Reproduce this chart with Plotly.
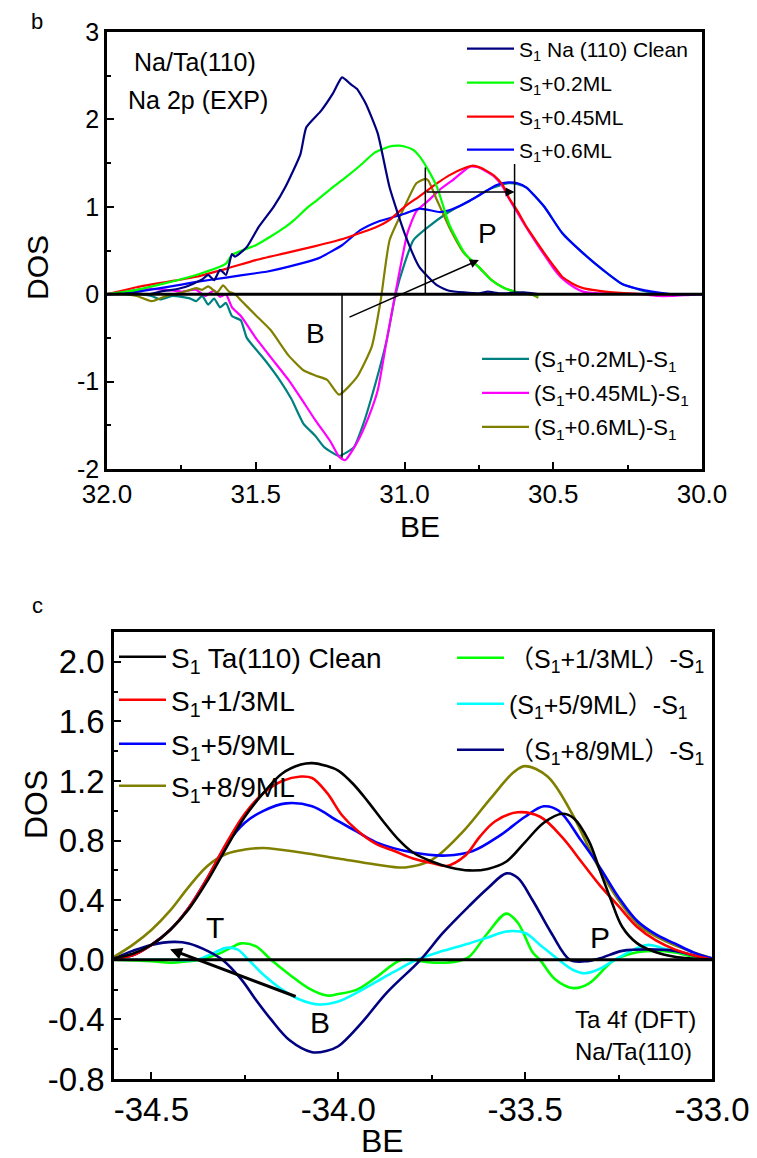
import plotly.graph_objects as go

# ---------------- panel b : Na 2p (EXP) ----------------
be_clean = [32.0, 31.9, 31.86, 31.82, 31.78, 31.74, 31.71, 31.68, 31.66, 31.64, 31.62, 31.6, 31.58,
            31.57, 31.53, 31.49, 31.44, 31.4, 31.35, 31.33, 31.28, 31.24, 31.21, 31.18, 31.16,
            31.13, 31.09, 31.05, 31.0, 30.95, 30.89, 30.85, 30.8, 30.75, 30.72, 30.68, 30.6, 30.55]
dos_clean = [0.0, 0.01, 0.0, 0.03, 0.05, 0.08, 0.12, 0.17, 0.22, 0.16, 0.28, 0.22, 0.46,
             0.43, 0.54, 0.77, 1.0, 1.23, 1.6, 1.91, 2.1, 2.3, 2.48, 2.4, 2.35,
             2.18, 1.84, 1.22, 0.7, 0.31, 0.1, 0.04, 0.02, 0.01, 0.03, 0.01, 0.02, 0.0]

be_02 = [32.0, 31.9, 31.8, 31.7, 31.6, 31.58, 31.5, 31.45, 31.4, 31.37, 31.33, 31.3, 31.25, 31.2,
         31.15, 31.1, 31.05, 31.02, 31.0, 30.97, 30.95, 30.92, 30.89, 30.85, 30.82, 30.8, 30.77,
         30.75, 30.72, 30.7, 30.67, 30.65, 30.62, 30.6, 30.57, 30.55]
dos_02 = [0.0, 0.05, 0.13, 0.22, 0.35, 0.45, 0.56, 0.66, 0.77, 0.85, 0.98, 1.06, 1.2, 1.33,
          1.47, 1.62, 1.69, 1.70, 1.69, 1.65, 1.58, 1.42, 1.22, 0.8, 0.6, 0.48, 0.37,
          0.31, 0.2, 0.14, 0.08, 0.05, 0.02, 0.01, 0.0, -0.02]

be_045 = [32.0, 31.9, 31.8, 31.7, 31.6, 31.5, 31.4, 31.3, 31.2, 31.15, 31.1, 31.05, 31.0, 30.95,
          30.89, 30.85, 30.8, 30.77, 30.74, 30.7, 30.67, 30.65, 30.62, 30.59, 30.56, 30.53, 30.5,
          30.47, 30.43, 30.4, 30.35, 30.3, 30.2, 30.1]
dos_045 = [0.0, 0.08, 0.14, 0.2, 0.29, 0.39, 0.47, 0.55, 0.64, 0.7, 0.76, 0.85, 1.0, 1.12,
           1.27, 1.36, 1.44, 1.47, 1.44, 1.36, 1.25, 1.11, 0.95, 0.77, 0.62, 0.47, 0.33,
           0.2, 0.11, 0.07, 0.04, 0.02, 0.0, 0.0]

be_06 = [32.0, 31.9, 31.8, 31.7, 31.6, 31.5, 31.46, 31.35, 31.29, 31.21, 31.15, 31.09, 31.0,
         30.95, 30.88, 30.85, 30.82, 30.76, 30.69, 30.65, 30.62, 30.59, 30.53, 30.47, 30.4,
         30.33, 30.27, 30.2, 30.1, 30.0]
dos_06 = [0.0, 0.03, 0.08, 0.14, 0.19, 0.24, 0.26, 0.35, 0.41, 0.56, 0.73, 0.83, 0.92,
          0.98, 0.94, 0.96, 1.0, 1.11, 1.25, 1.28, 1.27, 1.22, 1.0, 0.7, 0.47,
          0.27, 0.12, 0.05, 0.0, 0.0]

be_d02 = [32.0, 31.9, 31.85, 31.82, 31.78, 31.72, 31.7, 31.68, 31.66, 31.64, 31.62, 31.6, 31.58,
          31.55, 31.53, 31.47, 31.42, 31.38, 31.34, 31.3, 31.27, 31.22, 31.17, 31.14, 31.11,
          31.06, 31.03, 31.0, 30.97, 30.92, 30.86, 30.82, 30.78, 30.71, 30.65, 30.62, 30.59,
          30.53, 30.47, 30.4, 30.33, 30.27, 30.2, 30.15, 30.1, 30.0]
dos_d02 = [0.0, 0.0, -0.02, -0.06, -0.02, -0.05, -0.08, -0.02, -0.12, -0.05, -0.15, -0.1, -0.25,
           -0.3, -0.5, -0.75, -0.98, -1.2, -1.48, -1.62, -1.75, -1.85, -1.75, -1.5, -1.17,
           -0.53, 0.0, 0.35, 0.62, 0.77, 0.92, 1.0, 1.07, 1.21, 1.27, 1.26, 1.22,
           1.0, 0.7, 0.47, 0.27, 0.12, 0.04, 0.01, 0.0, 0.0]

be_d045 = [32.0, 31.95, 31.9, 31.85, 31.8, 31.75, 31.7, 31.67, 31.64, 31.62, 31.6, 31.58, 31.55,
           31.5, 31.45, 31.39, 31.35, 31.3, 31.25, 31.22, 31.2, 31.16, 31.12, 31.09, 31.06,
           31.03, 30.99, 30.96, 30.92, 30.88, 30.84, 30.78, 30.75, 30.7, 30.67, 30.65, 30.62,
           30.59, 30.56, 30.53, 30.5, 30.47, 30.43, 30.4, 30.35, 30.3, 30.2, 30.15, 30.1,
           30.05, 30.0]
dos_d045 = [0.0, 0.02, 0.05, 0.06, 0.05, 0.03, 0.05, -0.02, 0.04, -0.03, 0.0, -0.15, -0.25,
            -0.5, -0.72, -0.98, -1.18, -1.44, -1.68, -1.86, -1.9, -1.7, -1.4, -1.1, -0.53,
            0.02, 0.7, 0.95, 1.07, 1.2, 1.3, 1.46, 1.45, 1.35, 1.23, 1.1, 0.93,
            0.76, 0.6, 0.45, 0.3, 0.18, 0.08, 0.03, 0.01, 0.01, 0.0, -0.02, -0.02,
            -0.01, 0.0]

be_d06 = [32.0, 31.95, 31.9, 31.85, 31.8, 31.75, 31.72, 31.7, 31.68, 31.66, 31.63, 31.61, 31.59,
          31.57, 31.55, 31.5, 31.45, 31.39, 31.34, 31.3, 31.26, 31.22, 31.16, 31.11, 31.08,
          31.05, 31.0, 30.96, 30.93, 30.92, 30.89, 30.85, 30.8, 30.75, 30.71, 30.67, 30.63,
          30.6, 30.57, 30.55]
dos_d06 = [0.0, 0.0, -0.02, -0.08, -0.02, 0.02, 0.05, 0.07, 0.05, 0.09, 0.02, 0.1, 0.03,
           0.0, -0.07, -0.24, -0.41, -0.7, -0.87, -0.93, -0.98, -1.15, -0.95, -0.6, -0.07,
           0.62, 1.0, 1.27, 1.32, 1.3, 1.07, 0.77, 0.47, 0.31, 0.17, 0.08, 0.03,
           0.01, -0.01, -0.04]

# guide positions (BE) in panel b
b_peak_be, b_peak_dos = 31.21, -1.87
p_left_be, p_left_top = 30.93, 1.45
p_right_be, p_right_top = 30.63, 1.49
p_shift_dos = 1.17

# ---------------- panel c : Ta 4f (DFT) ----------------
be_c_clean = [-34.6, -34.55, -34.5, -34.45, -34.4, -34.35, -34.3, -34.25, -34.2, -34.15, -34.1,
              -34.07, -34.03, -34.0, -33.96, -33.92, -33.88, -33.84, -33.8, -33.75, -33.7,
              -33.65, -33.6, -33.55, -33.5, -33.45, -33.4, -33.37, -33.33, -33.3, -33.27,
              -33.24, -33.2, -33.15, -33.1, -33.0]
dos_c_clean = [0.01, 0.04, 0.1, 0.2, 0.34, 0.53, 0.75, 0.96, 1.12, 1.25, 1.31,
               1.32, 1.3, 1.27, 1.18, 1.06, 0.93, 0.81, 0.72, 0.66, 0.62,
               0.6, 0.61, 0.66, 0.79, 0.92, 0.98, 0.95, 0.8, 0.6, 0.4,
               0.22, 0.11, 0.05, 0.02, 0.0]

be_c_13 = [-34.6, -34.55, -34.5, -34.45, -34.4, -34.35, -34.3, -34.25, -34.2, -34.15, -34.1,
           -34.07, -34.03, -33.99, -33.95, -33.9, -33.85, -33.8, -33.75, -33.71, -33.66,
           -33.62, -33.58, -33.52, -33.46, -33.4, -33.35, -33.3, -33.25, -33.2, -33.15,
           -33.1, -33.05, -33.0]
dos_c_13 = [0.01, 0.03, 0.1, 0.2, 0.35, 0.55, 0.78, 0.98, 1.12, 1.2, 1.23,
            1.22, 1.12, 0.97, 0.87, 0.78, 0.73, 0.68, 0.65, 0.63, 0.7,
            0.83, 0.93, 0.99, 0.96, 0.82, 0.66, 0.5, 0.36, 0.22, 0.13,
            0.07, 0.03, 0.0]

be_c_59 = [-34.6, -34.55, -34.5, -34.45, -34.4, -34.35, -34.3, -34.25, -34.2, -34.14, -34.07,
           -34.0, -33.95, -33.9, -33.8, -33.71, -33.64, -33.57, -33.5, -33.45, -33.41,
           -33.35, -33.3, -33.25, -33.2, -33.15, -33.1, -33.05, -33.0]
dos_c_59 = [0.01, 0.03, 0.1, 0.2, 0.35, 0.55, 0.77, 0.92, 1.0, 1.05, 1.03,
            0.93, 0.86, 0.79, 0.72, 0.7, 0.73, 0.83, 0.96, 1.03, 1.0,
            0.8, 0.62, 0.42, 0.26, 0.17, 0.11, 0.05, 0.01]

be_c_89 = [-34.6, -34.55, -34.5, -34.45, -34.4, -34.35, -34.3, -34.25, -34.2, -34.1, -34.0,
           -33.9, -33.82, -33.75, -33.67, -33.59, -33.53, -33.5, -33.44, -33.37, -33.31,
           -33.25, -33.19, -33.12, -33.06, -33.0]
dos_c_89 = [0.02, 0.1, 0.2, 0.33, 0.49, 0.63, 0.71, 0.74, 0.75, 0.72, 0.68,
            0.64, 0.62, 0.67, 0.85, 1.09, 1.26, 1.3, 1.23, 0.96, 0.65,
            0.4, 0.22, 0.12, 0.06, 0.01]

be_c_d13 = [-34.6, -34.5, -34.45, -34.4, -34.37, -34.32, -34.28, -34.26, -34.22, -34.18, -34.13,
            -34.08, -34.03, -34.0, -33.95, -33.9, -33.83, -33.78, -33.74, -33.68, -33.65,
            -33.6, -33.55, -33.52, -33.48, -33.46, -33.42, -33.37, -33.33, -33.28, -33.26,
            -33.2, -33.15, -33.1, -33.05, -33.0]
dos_c_d13 = [0.0, -0.01, -0.02, -0.01, 0.0, 0.04, 0.09, 0.11, 0.09, 0.0, -0.1,
             -0.19, -0.24, -0.23, -0.2, -0.12, 0.0, -0.01, -0.02, -0.01, 0.02,
             0.18, 0.31, 0.25, 0.05, 0.0, -0.13, -0.19, -0.16, -0.04, 0.0,
             0.05, 0.06, 0.05, 0.02, 0.0]

be_c_d59 = [-34.6, -34.45, -34.38, -34.33, -34.3, -34.27, -34.24, -34.2, -34.15, -34.1, -34.05,
            -34.0, -33.95, -33.9, -33.85, -33.79, -33.72, -33.65, -33.6, -33.55, -33.5,
            -33.46, -33.41, -33.37, -33.34, -33.3, -33.26, -33.2, -33.17, -33.12, -33.05, -33.0]
dos_c_d59 = [0.0, 0.0, 0.0, 0.05, 0.08, 0.07, 0.0, -0.1, -0.2, -0.27, -0.3,
             -0.28, -0.22, -0.15, -0.08, 0.0, 0.06, 0.11, 0.15, 0.19, 0.18,
             0.1, 0.0, -0.07, -0.09, -0.06, 0.0, 0.08, 0.1, 0.07, 0.03, 0.0]

be_c_d89 = [-34.6, -34.55, -34.5, -34.44, -34.4, -34.35, -34.31, -34.26, -34.22, -34.18, -34.13,
            -34.07, -34.03, -34.0, -33.94, -33.87, -33.78, -33.72, -33.65, -33.6, -33.55,
            -33.52, -33.48, -33.43, -33.38, -33.34, -33.3, -33.24, -33.17, -33.1, -33.05, -33.0]
dos_c_d89 = [0.01, 0.06, 0.1, 0.12, 0.11, 0.06, 0.0, -0.13, -0.27, -0.4, -0.54,
             -0.62, -0.61, -0.58, -0.43, -0.22, 0.0, 0.18, 0.36, 0.48, 0.58,
             0.55, 0.4, 0.18, 0.0, -0.01, 0.01, 0.06, 0.07, 0.06, 0.03, 0.0]

# arrow T <- B in panel c
t_arrow_head = (-34.45, 0.07)
t_arrow_tail = (-34.11, -0.25)

ARIAL = "Liberation Sans, Arial, Noto Sans CJK SC, sans-serif"

W, H = 757, 1158


def px_x(p):
    return p / W


def px_y(p):
    return 1 - p / H


fig = go.Figure()

top_series = [
    (be_clean, dos_clean, "S<sub>1</sub> Na (110) Clean", "#000080", 49, 468),
    (be_02, dos_02, "S<sub>1</sub>+0.2ML", "#00FF00", 83, 468),
    (be_045, dos_045, "S<sub>1</sub>+0.45ML", "#FF0000", 117, 468),
    (be_06, dos_06, "S<sub>1</sub>+0.6ML", "#0000FF", 150, 468),
    (be_d02, dos_d02, "(S<sub>1</sub>+0.2ML)-S<sub>1</sub>", "#008080", 359, 483),
    (be_d045, dos_d045, "(S<sub>1</sub>+0.45ML)-S<sub>1</sub>", "#FF00FF", 393, 483),
    (be_d06, dos_d06, "(S<sub>1</sub>+0.6ML)-S<sub>1</sub>", "#808000", 427, 483),
]
# draw order: differences first, then the spectra
draw_order_top = [4, 5, 6, 3, 2, 1, 0]

bottom_series = [
    (be_c_clean, dos_c_clean, "S<sub>1</sub> Ta(110) Clean", "#000000", 657, 120),
    (be_c_13, dos_c_13, "S<sub>1</sub>+1/3ML", "#FF0000", 700, 120),
    (be_c_59, dos_c_59, "S<sub>1</sub>+5/9ML", "#0000FF", 744, 120),
    (be_c_89, dos_c_89, "S<sub>1</sub>+8/9ML", "#808000", 786, 120),
    (be_c_d13, dos_c_d13, "（S<sub>1</sub>+1/3ML）-S<sub>1</sub>", "#00FF00", 658, 458),
    (be_c_d59, dos_c_d59, "(S<sub>1</sub>+5/9ML）-S<sub>1</sub>", "#00FFFF", 704, 458),
    (be_c_d89, dos_c_d89, "（S<sub>1</sub>+8/9ML）-S<sub>1</sub>", "#000080", 750, 458),
]
draw_order_bottom = [4, 5, 6, 3, 2, 1, 0]

legend_layout = {}
n = 0


def add_series(series, order, xa, ya, width, fsizes, smoothing):
    global n
    for i in order:
        xs, ys, name, color, ly, lx = series[i]
        n += 1
        key = "legend" if n == 1 else f"legend{n}"
        fig.add_trace(go.Scatter(x=xs, y=ys, mode="lines", name=name,
                                 line=dict(color=color, width=width, shape="spline",
                                           smoothing=smoothing),
                                 xaxis=xa, yaxis=ya, legend=key))
        legend_layout[key] = dict(
            x=px_x(lx - 6), y=px_y(ly), xanchor="left", yanchor="middle",
            bgcolor="rgba(0,0,0,0)", borderwidth=0, itemwidth=47,
            font=dict(family=ARIAL, size=fsizes[i], color="black"),
            tracegroupgap=0, itemclick=False, itemdoubleclick=False)


add_series(top_series, draw_order_top, "x", "y", 2.2, [21, 21, 21, 21, 22, 22, 22], 0.5)
add_series(bottom_series, draw_order_bottom, "x2", "y2", 2.6, [28, 28, 28, 28, 25, 25, 25], 1.0)

# ---------------- axes ----------------
axis_common = dict(showline=True, mirror=True, linecolor="black", linewidth=2.5,
                   showgrid=False, zeroline=False, ticks="inside", tickcolor="black",
                   tickwidth=2, ticklen=7, automargin=False)

top_xticks = [32.0, 31.5, 31.0, 30.5, 30.0]
top_xtext = ["32.0", "31.5", "31.0", "30.5", "30.0"]
top_yticks = [3, 2, 1, 0, -1, -2]
top_ytext = ["3", "2", "1", "0", "-1", "-2"]
bot_xticks = [-34.5, -34.0, -33.5, -33.0]
bot_xtext = ["-34.5", "-34.0", "-33.5", "-33.0"]
bot_yticks = [2.0, 1.6, 1.2, 0.8, 0.4, 0.0, -0.4, -0.8]
bot_ytext = ["2.0", "1.6", "1.2", "0.8", "0.4", "0.0", "-0.4", "-0.8"]

fig.update_layout(
    width=W, height=H, margin=dict(l=0, r=0, t=0, b=0, autoexpand=False),
    paper_bgcolor="white", plot_bgcolor="white",
    font=dict(family=ARIAL, color="black"),
    xaxis=dict(axis_common, domain=[px_x(107), px_x(702)], range=[32.0, 30.0],
               tickvals=top_xticks, ticktext=top_xtext, anchor="y",
               tickfont=dict(size=26),
               minor=dict(ticks="inside", ticklen=4, tickwidth=2, dtick=0.25, tickcolor="black")),
    yaxis=dict(axis_common, domain=[px_y(469), px_y(32)], range=[-2, 3],
               tickvals=top_yticks, ticktext=top_ytext, anchor="x",
               tickfont=dict(size=25),
               minor=dict(ticks="inside", ticklen=4, tickwidth=2, dtick=0.5, tickcolor="black")),
    xaxis2=dict(axis_common, domain=[px_x(114), px_x(712)], range=[-34.6, -33.0],
                tickvals=bot_xticks, ticktext=bot_xtext, anchor="y2",
                tickfont=dict(size=33),
                minor=dict(ticks="inside", ticklen=4, tickwidth=2, dtick=0.25, tickcolor="black")),
    yaxis2=dict(axis_common, domain=[px_y(1079), px_y(632)], range=[-0.8, 2.2],
                tickvals=bot_yticks, ticktext=bot_ytext, anchor="x2",
                tickfont=dict(size=33),
                minor=dict(ticks="inside", ticklen=4, tickwidth=2, dtick=0.2, tickcolor="black")),
    showlegend=True,
    **legend_layout,
)

# zero reference lines drawn over the curves
for xr, yr, w in (("x", "y", 3), ("x2", "y2", 3)):
    fig.add_shape(type="line", xref=f"{xr} domain", yref=yr, x0=0, x1=1, y0=0, y1=0,
                  line=dict(color="black", width=w), layer="above")

# panel b guides
fig.add_shape(type="line", xref="x", yref="y", x0=b_peak_be, x1=b_peak_be, y0=0, y1=b_peak_dos,
              line=dict(color="black", width=1.5))
fig.add_shape(type="line", xref="x", yref="y", x0=p_left_be, x1=p_left_be, y0=0, y1=p_left_top,
              line=dict(color="black", width=1.5))
fig.add_shape(type="line", xref="x", yref="y", x0=p_right_be, x1=p_right_be, y0=0, y1=p_right_top,
              line=dict(color="black", width=1.5))

arrow_style = dict(showarrow=True, arrowhead=2, arrowsize=1.2, arrowcolor="black", text="")
fig.add_annotation(x=p_right_be, y=p_shift_dos, ax=p_left_be, ay=p_shift_dos,
                   xref="x", yref="y", axref="x", ayref="y", arrowwidth=1.5, **arrow_style)
fig.add_annotation(x=30.75, y=0.39, ax=31.19, ay=-0.27,
                   xref="x", yref="y", axref="x", ayref="y", arrowwidth=1.5, **arrow_style)

# panel c arrow
fig.add_annotation(x=t_arrow_head[0], y=t_arrow_head[1], ax=t_arrow_tail[0], ay=t_arrow_tail[1],
                   xref="x2", yref="y2", axref="x2", ayref="y2", arrowwidth=3,
                   showarrow=True, arrowhead=2, arrowsize=0.8, arrowcolor="black", text="")

# text labels: (text, xref, yref, x, y, size, anchor, angle)
texts = [
    ("b", "paper", "paper", px_x(37), px_y(22), 22, "center", 0),
    ("c", "paper", "paper", px_x(37), px_y(605), 22, "center", 0),
    ("Na/Ta(110)", "paper", "paper", px_x(195), px_y(62), 25, "center", 0),
    ("Na 2p (EXP)", "paper", "paper", px_x(198), px_y(100), 25, "center", 0),
    ("B", "x", "y", 31.30, -0.45, 28, "center", 0),
    ("P", "x", "y", 30.72, 0.70, 28, "center", 0),
    ("T", "x2", "y2", -34.33, 0.22, 30, "center", 0),
    ("B", "x2", "y2", -34.05, -0.42, 30, "center", 0),
    ("P", "x2", "y2", -33.30, 0.15, 30, "center", 0),
    ("Ta 4f (DFT)", "paper", "paper", px_x(698), px_y(1019), 24, "right", 0),
    ("Na/Ta(110)", "paper", "paper", px_x(694), px_y(1051), 24, "right", 0),
    # axis titles
    ("BE", "paper", "paper", px_x(420), px_y(526), 30, "center", 0),
    ("DOS", "paper", "paper", px_x(38), px_y(268), 30, "center", -90),
    ("BE", "paper", "paper", px_x(382), px_y(1141), 32, "center", 0),
    ("DOS", "paper", "paper", px_x(36), px_y(805), 32, "center", -90),
]
for t, xr, yr, x, y, s, al, ang in texts:
    xanchor = "right" if al == "right" else "center"
    fig.add_annotation(text=t, x=x, y=y, xref=xr, yref=yr, showarrow=False, textangle=ang,
                       xanchor=xanchor, yanchor="middle", font=dict(size=s, color="black"))

fig.write_html("out.html")
